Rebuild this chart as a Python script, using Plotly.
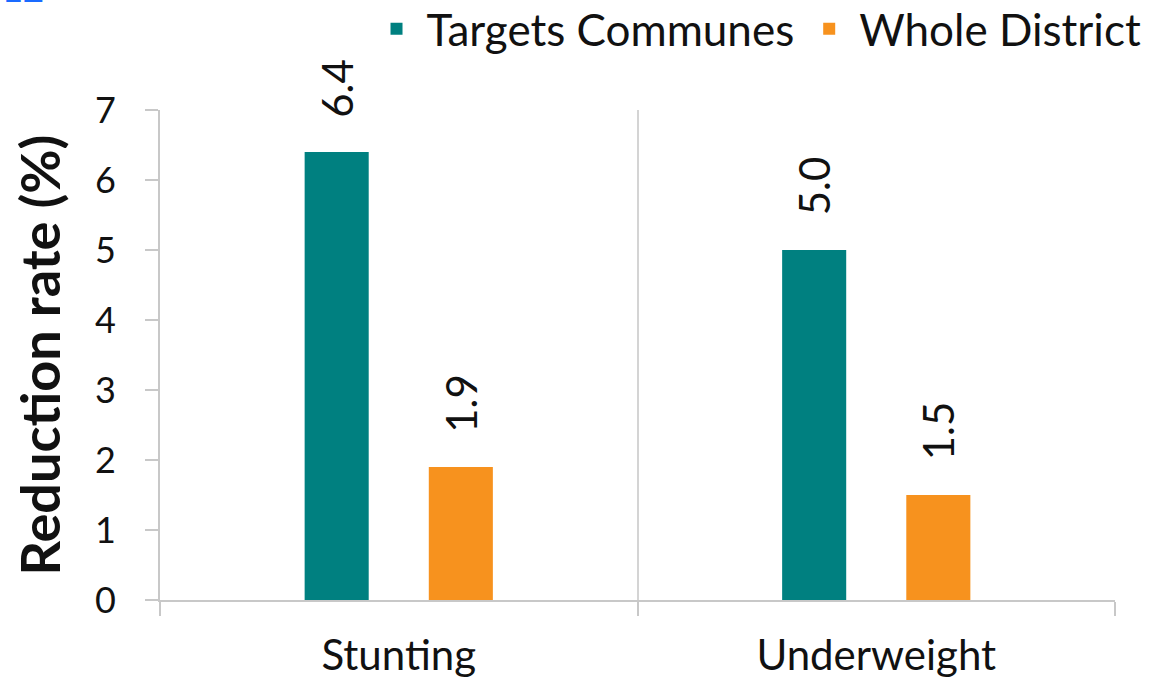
import plotly.graph_objects as go

categories = ["Stunting", "Underweight"]
series_names = ["Targets Communes", "Whole District"]
targets_values = [6.4, 5.0]
district_values = [1.9, 1.5]
colors = ["#008080", "#F7921E"]
y_ticks = [0, 1, 2, 3, 4, 5, 6, 7]

FONT = "Lato"

fig = go.Figure()
for name, vals, col in zip(series_names, [targets_values, district_values], colors):
    fig.add_trace(go.Bar(x=categories, y=vals, name=name, marker=dict(color=col, line=dict(width=0))))

# rotated data labels above the bars
for vals, shift in zip([targets_values, district_values], [-62, 62]):
    for c, v in zip(categories, vals):
        fig.add_annotation(x=c, y=v, xref="x", yref="y", text=f"{v:.1f}", textangle=-90,
                           showarrow=False, xshift=shift, yshift=64, yanchor="middle",
                           font=dict(family=FONT, size=42, color="#111111"))

fig.add_annotation(xref="paper", yref="paper", x=-0.1675, y=1.20, xanchor="left", yanchor="bottom",
                   text="<b>12</b>", showarrow=False, font=dict(family=FONT, size=36, color="#1A6BFF"))

fig.update_layout(
    width=1150, height=684,
    margin=dict(l=160, r=35, t=110, b=84, autoexpand=False),
    paper_bgcolor="white", plot_bgcolor="white",
    barmode="group", bargap=0.48, bargroupgap=0.484,
    font=dict(family=FONT, size=36, color="#111111"),
    legend=dict(orientation="h", x=1.033, xanchor="right", y=1.165, yanchor="middle",
                font=dict(family=FONT, size=44, color="#111111"), itemwidth=50,
                traceorder="normal", bgcolor="rgba(0,0,0,0)"),
    showlegend=True,
)
fig.update_xaxes(type="category", tickson="boundaries", ticks="outside", ticklen=14,
                 tickwidth=2, tickcolor="#c8c8c8", showline=True, linecolor="#c8c8c8", linewidth=2,
                 showgrid=True, gridcolor="#d4d4d4", gridwidth=2, ticklabelstandoff=18,
                 tickfont=dict(family=FONT, size=42, color="#111111"))
fig.update_yaxes(range=[0, 7], tickvals=y_ticks, ticks="outside", ticklen=13, tickwidth=2,
                 tickcolor="#c8c8c8", showline=True, linecolor="#c8c8c8", linewidth=2,
                 showgrid=False, zeroline=False, ticklabelstandoff=22,
                 tickfont=dict(family=FONT, size=36, color="#111111"),
                 title=dict(text="<b>Reduction rate (%)</b>", standoff=17,
                            font=dict(family=FONT, size=54, color="#111111")))

fig.write_html("out.html", config={"displayModeBar": False},
               post_script="document.body.style.margin='0px';")
